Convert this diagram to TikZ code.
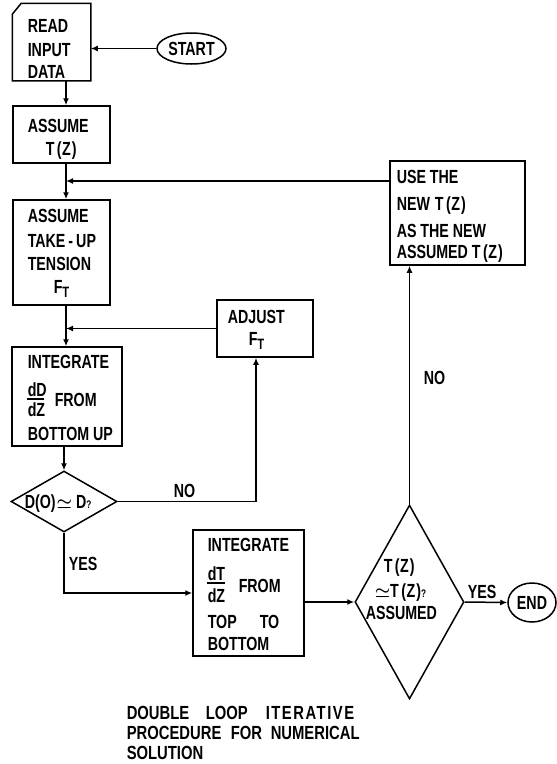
\documentclass[tikz,border=0pt]{standalone}
\usepackage{fontspec}
\setmainfont{Liberation Sans}[FakeStretch=0.75]
\newfontfamily\capfont{Liberation Sans}[FakeStretch=0.78]
\usetikzlibrary{arrows.meta,shapes.geometric,calc}
\newcommand\lbl{\fontsize{19}{21}\selectfont\bfseries}
\newcommand\cpf{\capfont\fontsize{19}{21}\selectfont\bfseries}
\newcommand\subT{\raisebox{-4pt}{\fontsize{15}{15}\selectfont T}}
\newcommand\qm{{\fontsize{11}{11}\selectfont ?}}
\newcommand\TZ{T\kern2.5pt(\kern0.5pt Z\kern1pt)}
\newcommand\simq{{\boldmath$\simeq$}}
\begin{document}
\begin{tikzpicture}[x=1pt,y=-1pt,line width=1.5pt,
  box/.style={draw,rectangle,inner sep=0pt},
  term/.style={draw,ellipse,inner sep=0pt,font=\lbl},
  dia/.style={draw,diamond,inner sep=0pt},
  t/.style={anchor=base west,inner sep=0pt,font=\lbl},
  c/.style={anchor=base west,inner sep=0pt,font=\cpf},
  arr/.style={-{Latex[length=7pt,width=6pt]}},
  frac/.style={line width=1.3pt}]
\path[use as bounding box] (0,0) rectangle (557,764);
\coordinate (mx) at (66,0);
\coordinate (J1) at (66,181);
% boxes
\node[box,draw=none,minimum width=77pt,minimum height=76pt] (read) at (51.5,42) {};
\draw (read.south west) -- ($(read.north west)+(0,11)$) -- ($(read.north west)+(9,0)$) -- (read.north east) -- (read.south east) -- cycle;
\node[term,minimum width=69pt,minimum height=31pt] (start) at (191.5,48.5) {START};
\node[box,minimum width=97pt,minimum height=57pt] (assume1) at (61.5,134.5) {};
\node[box,minimum width=97pt,minimum height=105pt] (takeup) at (61.5,252.5) {};
\node[box,minimum width=110pt,minimum height=99pt] (integ1) at (67,396.5) {};
\node[box,minimum width=96pt,minimum height=57pt] (adjust) at (265,328.5) {};
\node[dia,minimum width=106pt,minimum height=61pt] (d1) at (64,501.5) {};
\node[box,minimum width=111pt,minimum height=126pt] (integ2) at (248.5,593) {};
\node[dia,minimum width=109pt,minimum height=194pt] (d2) at (409.5,602) {};
\node[box,minimum width=135pt,minimum height=104pt] (use) at (457.5,213) {};
\node[term,minimum width=48pt,minimum height=39pt] (end) at (532,602.5) {END};
% texts
\node[t] (r1) at (27,32) {READ};
\node[t] (r2) at (27,56) {INPUT};
\node[t] (r3) at (27,78) {DATA};
\node[t] (a1) at (27,132) {ASSUME};
\node[t] (a2) at (45,155) {\TZ};
\node[t] (b1) at (27,222) {ASSUME};
\node[t] (b2) at (27,247) {TAKE\kern3pt -\kern3pt UP};
\node[t] (b3) at (27,270) {TENSION};
\node[t] (b4) at (53,293) {F\subT};
\node[t] (c1) at (27,368) {INTEGRATE};
\node[t] (c2) at (27,396) {dD};
\node[t] (c3) at (27,416) {dZ};
\draw[frac] (27,399) -- (44,399);
\node[t] (c4) at (54,406) {FROM};
\node[t] (c5) at (27,440) {BOTTOM UP};
\node[t] (e1) at (227,323) {ADJUST};
\node[t] (e2) at (248,345) {F\subT};
\node[t] (f1) at (24,508) {D(O)\kern1pt\simq\kern4pt D\qm};
\node[t] (g1) at (207,551) {INTEGRATE};
\node[t] (g2) at (207,580) {dT};
\node[t] (g3) at (207,602) {dZ};
\draw[frac] (207,583) -- (225,583);
\node[t] (g4) at (238,592) {FROM};
\node[t] (g5) at (207,628) {TOP};
\node[t] (g6) at (259,628) {TO};
\node[t] (g7) at (207,650) {BOTTOM};
\node[t] (h1) at (383,572) {\TZ};
\node[t] (h2) at (374,597) {\simq\TZ\qm};
\node[t] (h3) at (365,619) {ASSUMED};
\node[t] (u1) at (396,183) {USE THE};
\node[t] (u2) at (396,210) {NEW\kern5pt\TZ};
\node[t] (u3) at (396,237) {AS THE NEW};
\node[t] (u4) at (396,258) {ASSUMED \TZ};
% labels
\node[t] (no1) at (173,497) {NO};
\node[t] (yes1) at (68,570) {YES};
\node[t] (no2) at (423,384) {NO};
\node[t] (yes2) at (467,598) {YES};
% caption
\node[c] (k1) at (126,719) {DOUBLE};
\node[c] (k2) at (205,719) {LOOP};
\node[c] (k3) at (265,719) {\addfontfeature{LetterSpace=8}ITERATIVE};
\node[c] (k4) at (126,739) {PROCEDURE};
\node[c] (k5) at (230,739) {FOR};
\node[c] (k6) at (270,739) {NUMERICAL};
\node[c] (k7) at (126,759) {SOLUTION};
% connectors
\draw[arr] (start.west) -- (start.west -| read.east);
\draw[arr] (read.south -| mx) -- (assume1.north -| mx);
\draw (assume1.south -| mx) -- (J1);
\draw[arr] (J1) -- (takeup.north -| mx);
\draw[arr] (J1 -| use.west) -- (J1);
\coordinate (J2) at (adjust.west -| mx);
\draw (takeup.south -| mx) -- (J2);
\draw[arr] (J2) -- (integ1.north -| mx);
\draw[arr] (adjust.west) -- (J2);
\draw[arr] (integ1.south -| d1.north) -- (d1.north);
\draw[arr] (d1.east) -| (adjust.south -| 256,0);
\draw[arr] (d1.south) |- (integ2.west);
\draw[arr] (d2.west -| integ2.east) -- (d2.west);
\draw[arr] (d2.north) -- (d2.north |- use.south);
\draw[arr] (d2.east) -- (end.west);
\end{tikzpicture}
\end{document}
